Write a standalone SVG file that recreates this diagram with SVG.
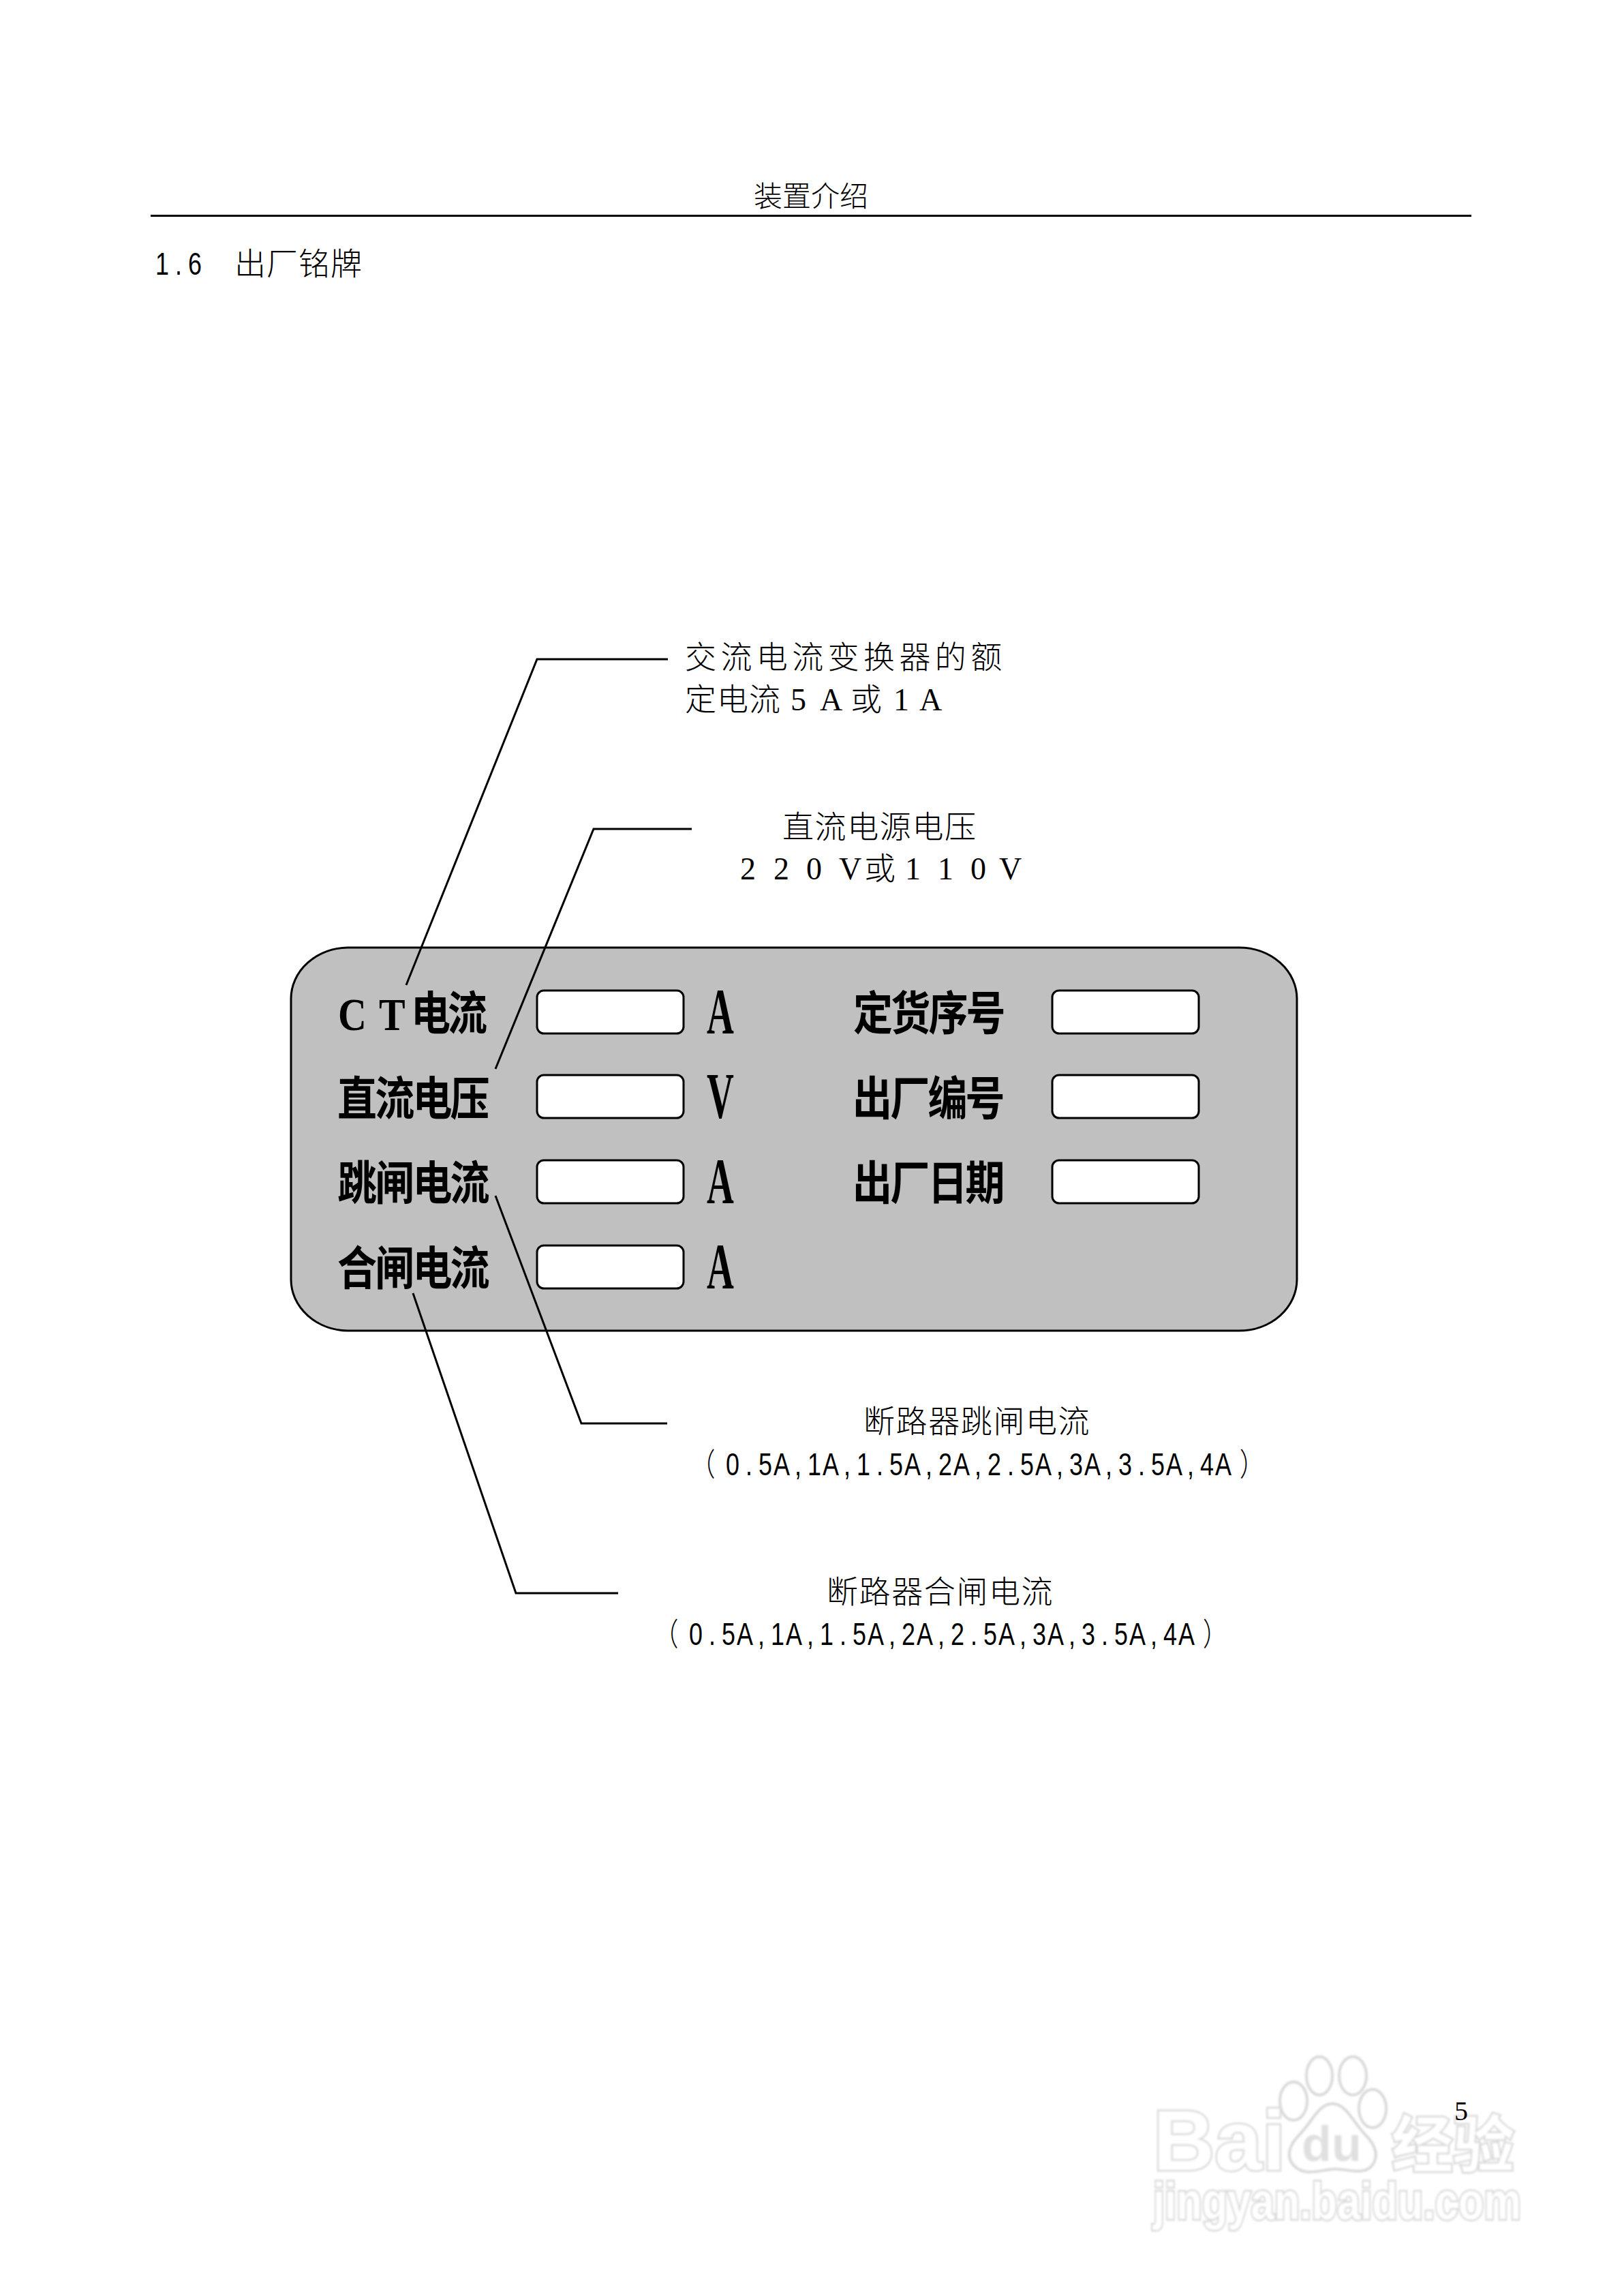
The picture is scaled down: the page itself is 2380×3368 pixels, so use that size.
<svg xmlns="http://www.w3.org/2000/svg" width="2380" height="3368" viewBox="0 0 2380 3368">
<defs>
<style>
.b{font-family:"Liberation Serif","Noto Sans CJK SC",sans-serif;font-size:46px;font-weight:300;fill:#000}
.h{font-family:"Liberation Serif","Noto Sans CJK SC",sans-serif;font-size:58px;font-weight:700;fill:#000}
.u{font-family:"Liberation Serif",serif;font-size:95px;font-weight:700;fill:#000}
.n{font-family:"Liberation Sans","Noto Sans CJK SC",sans-serif;font-size:46px;font-weight:300;fill:#000}
.box{fill:#fff;stroke:#000;stroke-width:3}
.lead{fill:none;stroke:#000;stroke-width:3}
.wm{fill:#fff;stroke:#d8d8d8;stroke-width:5;font-family:"Liberation Sans","Noto Sans CJK SC",sans-serif;font-weight:700;paint-order:stroke}
.wms{fill:#fff;stroke:#d8d8d8;stroke-width:4}
</style>
<filter id="soft"><feGaussianBlur stdDeviation="1.5"/></filter>
</defs>
<rect width="2380" height="3368" fill="#fff"/>
<g id="watermark" filter="url(#soft)">
<ellipse class="wms" cx="1936" cy="3045" rx="19" ry="28"/>
<ellipse class="wms" cx="1985" cy="3045" rx="20" ry="28"/>
<ellipse class="wms" cx="1898" cy="3082" rx="20" ry="28"/>
<ellipse class="wms" cx="2014" cy="3093" rx="20" ry="28"/>
<path class="wms" d="M1955 3086C1975 3086 1985 3112 2002 3130C2020 3148 2024 3164 2012 3178C1998 3192 1975 3180 1955 3182C1935 3184 1915 3192 1900 3178C1885 3164 1892 3146 1908 3130C1925 3113 1935 3086 1955 3086Z"/>
<text class="wm" x="1692" y="3183" font-size="125">Bai</text>
<text class="wm" x="1910" y="3170" font-size="72" style="fill:#e0e0e0;stroke:#fff;stroke-width:2">du</text>
<text class="wm" x="2042" y="3178" font-size="90">经验</text>
<text class="wm" x="1692" y="3255" font-size="76" textLength="540" lengthAdjust="spacingAndGlyphs">jingyan.baidu.com</text>
</g>
<g id="header">
<text class="b" x="1106" y="303" style="font-size:42px">装置介绍</text>
<rect x="221" y="315" width="1938" height="3" fill="#000"/>
</g>
<g id="section-title">
<text class="n" transform="translate(238,403) scale(.78,1)" text-anchor="middle" x="0 30.8 61.5">1.6</text>
<text class="b" x="344" y="403" style="letter-spacing:1px">出厂铭牌</text>
</g>
<g id="nameplate">
<rect x="427" y="1390" width="1476" height="562" rx="85" ry="75" fill="#c0c0c0" stroke="#000" stroke-width="3"/>
</g>
<g id="field-ct">
<text class="h" transform="translate(0,1511) scale(1,1.18)" x="496 556 603 657">CT电流</text>
<rect class="box" x="788" y="1453" width="215" height="63" rx="10"/>
<text class="u" transform="translate(1037,1516) scale(.58,1)">A</text>
</g>
<g id="field-dc">
<text class="h" transform="translate(495,1636) scale(1,1.18)" style="letter-spacing:-2.8px">直流电压</text>
<rect class="box" x="788" y="1577" width="215" height="63" rx="10"/>
<text class="u" transform="translate(1037,1640) scale(.58,1)">V</text>
</g>
<g id="field-trip">
<text class="h" transform="translate(495,1760) scale(1,1.18)" style="letter-spacing:-2.8px">跳闸电流</text>
<rect class="box" x="788" y="1702" width="215" height="63" rx="10"/>
<text class="u" transform="translate(1037,1765) scale(.58,1)">A</text>
</g>
<g id="field-close">
<text class="h" transform="translate(495,1885) scale(1,1.18)" style="letter-spacing:-2.8px">合闸电流</text>
<rect class="box" x="788" y="1827" width="215" height="63" rx="10"/>
<text class="u" transform="translate(1037,1890) scale(.58,1)">A</text>
</g>
<g id="field-order">
<text class="h" transform="translate(1252,1511) scale(1,1.18)" style="letter-spacing:-2.8px">定货序号</text>
<rect class="box" x="1544" y="1453" width="215" height="63" rx="10"/>
</g>
<g id="field-serial">
<text class="h" transform="translate(1251,1636) scale(1,1.18)" style="letter-spacing:-2.8px">出厂编号</text>
<rect class="box" x="1544" y="1577" width="215" height="63" rx="10"/>
</g>
<g id="field-date">
<text class="h" transform="translate(1251,1760) scale(1,1.18)" style="letter-spacing:-2.8px">出厂日期</text>
<rect class="box" x="1544" y="1702" width="215" height="63" rx="10"/>
</g>
<g id="connectors">
<path class="lead" d="M596 1445L788 967H980"/>
<path class="lead" d="M727 1568L871 1216H1015"/>
<path class="lead" d="M727 1754L853 2088H979"/>
<path class="lead" d="M606 1897L757 2337H907"/>
</g>
<g id="note-ct">
<text class="b" x="1005" y="980" style="letter-spacing:6.4px">交流电流变换器的额</text>
<text class="b" x="1005 1052 1099 1160 1203 1248 1311 1349" y="1042">定电流5A或1A</text>
</g>
<g id="note-dc">
<text class="b" x="1148" y="1229" style="letter-spacing:1.6px">直流电源电压</text>
<text class="b" x="1086 1135 1183 1231 1268 1328 1376 1424 1466" y="1290">220V或110V</text>
</g>
<g id="note-trip">
<text class="b" x="1267" y="2101" style="letter-spacing:1.6px">断路器跳闸电流</text>
<text class="n" transform="translate(1075,2164) scale(.78,1)" text-anchor="middle" x="-56 0 30.8 61.5 92.3 123.1 153.8 184.6 215.4 246.2 276.9 307.7 338.5 369.2 400 430.8 461.5 492.3 523.1 553.8 584.6 615.4 646.2 676.9 707.7 738.5 769.2 800 830.8 861.5 892.3 923.1 977">（0.5A,1A,1.5A,2A,2.5A,3A,3.5A,4A）</text>
</g>
<g id="note-close">
<text class="b" x="1213" y="2351" style="letter-spacing:1.6px">断路器合闸电流</text>
<text class="n" transform="translate(1021,2413) scale(.78,1)" text-anchor="middle" x="-56 0 30.8 61.5 92.3 123.1 153.8 184.6 215.4 246.2 276.9 307.7 338.5 369.2 400 430.8 461.5 492.3 523.1 553.8 584.6 615.4 646.2 676.9 707.7 738.5 769.2 800 830.8 861.5 892.3 923.1 977">（0.5A,1A,1.5A,2A,2.5A,3A,3.5A,4A）</text>
</g>
<g id="page-number">
<text x="2134" y="3110" style="font-family:'Liberation Serif',serif;font-size:40px;fill:#000">5</text>
</g>
</svg>
